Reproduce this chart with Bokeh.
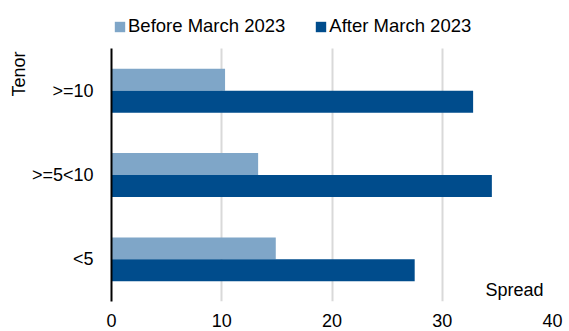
import numpy as np
from bokeh.plotting import figure
from bokeh.models import ColumnDataSource, Range1d, Legend, LegendItem, Label, FixedTicker, Title
from bokeh.transform import dodge
from bokeh.embed import file_html
from bokeh.resources import INLINE

# Tenor buckets (bottom to top) and average spread per period
tenors = ["<5", ">=5<10", ">=10"]
before_march_2023 = [14.9, 13.3, 10.3]
after_march_2023 = [27.5, 34.5, 32.8]
x_ticks = [0, 10, 20, 30, 40]

FONT = "Liberation Sans"
LIGHT = "#7fa6c8"
DARK = "#004c8c"

pos = list(range(len(tenors)))
source = ColumnDataSource(dict(pos=pos, tenor=tenors, before=before_march_2023, after=after_march_2023))

# one unit per tenor bucket; extra headroom at the top holds the legend
cat_lo, cat_hi = pos[0] - 0.5, pos[-1] + 0.5
p = figure(
    width=569, height=331,
    y_range=Range1d(cat_lo, cat_hi + 0.57),
    x_range=Range1d(0, 40),
    output_backend="svg", toolbar_location=None,
    min_border_left=111, min_border_right=17, min_border_top=0, min_border_bottom=30,
)
p.outline_line_color = None
p.background_fill_color = "white"
p.border_fill_color = "white"

bar_h = 0.26
r_before = p.hbar(y=dodge("pos", 0.13), right="before", left=0, height=bar_h,
                  source=source, fill_color=LIGHT, line_color=None)
r_after = p.hbar(y=dodge("pos", -0.13), right="after", left=0, height=bar_h,
                 source=source, fill_color=DARK, line_color=None)

# x axis: labels only, vertical grid lines over the bucket area
p.xaxis.ticker = FixedTicker(ticks=x_ticks)
p.xaxis.axis_line_color = None
p.xaxis.major_tick_line_color = None
p.xaxis.minor_tick_line_color = None
p.xaxis.major_tick_out = 0
p.xaxis.major_tick_in = 0
p.xaxis.major_label_standoff = 12
p.xaxis.major_label_text_font = FONT
p.xaxis.major_label_text_font_size = "18px"
p.xaxis.major_label_text_color = "black"
p.xgrid.grid_line_color = "#d9d9d9"
p.xgrid.grid_line_width = 2
p.xgrid.cross_bounds = (cat_lo, cat_hi)

# y axis: black spine, tenor labels
p.ygrid.grid_line_color = None
p.yaxis.bounds = (cat_lo, cat_hi)
p.yaxis.ticker = FixedTicker(ticks=pos)
p.yaxis.major_label_overrides = {i: t for i, t in zip(pos, tenors)}
p.yaxis.axis_line_color = "black"
p.yaxis.axis_line_width = 2
p.yaxis.major_tick_line_color = None
p.yaxis.minor_tick_line_color = None
p.yaxis.major_tick_out = 0
p.yaxis.major_tick_in = 0
p.yaxis.major_label_standoff = 18
p.yaxis.major_label_text_font = FONT
p.yaxis.major_label_text_font_size = "18px"
p.yaxis.major_label_text_color = "black"

legend = Legend(
    items=[LegendItem(label="Before March 2023", renderers=[r_before]),
           LegendItem(label="After March 2023", renderers=[r_after])],
    orientation="horizontal",
    location=(2, 264),
    glyph_width=13, glyph_height=13, label_standoff=2, spacing=29,
    padding=0, margin=0,
    label_text_font=FONT, label_text_font_size="18.5px", label_text_color="black",
    border_line_color=None, background_fill_alpha=0,
)
p.add_layout(legend)

p.add_layout(Title(text="Tenor", align="right", offset=51, standoff=0, text_font=FONT,
                   text_font_size="18px", text_font_style="normal", text_color="black"), "left")
p.add_layout(Label(x=432, y=12, x_units="screen", y_units="screen", text="Spread",
                   text_align="right", text_baseline="alphabetic",
                   text_font=FONT, text_font_size="18px", text_color="black"))

open("out.html", "w").write(file_html(p, INLINE))
